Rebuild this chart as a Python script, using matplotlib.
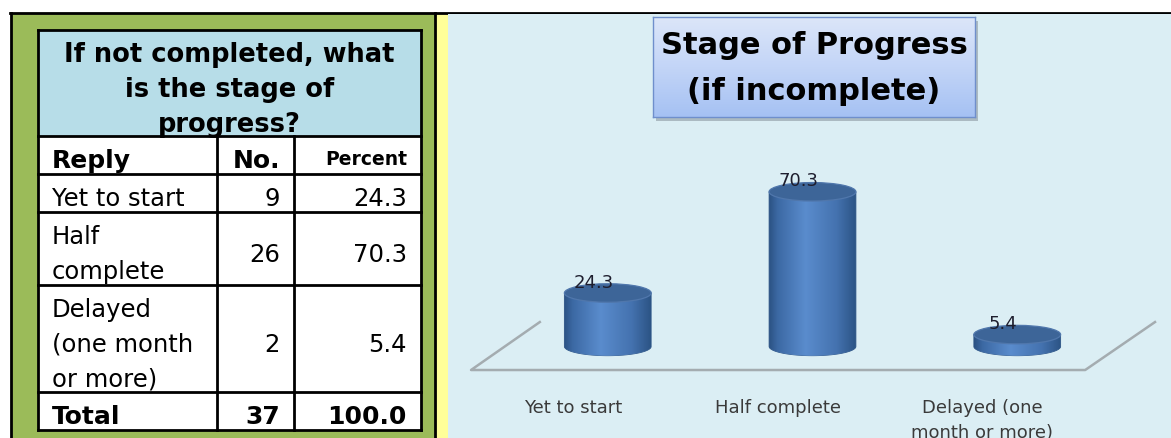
import matplotlib.pyplot as plt
import numpy as np
from matplotlib.colors import LinearSegmentedColormap
from matplotlib.patches import Rectangle, Ellipse, PathPatch
from matplotlib.path import Path

# Table data
table_title = ["If not completed, what", "is the stage of", "progress?"]
col_headers = ["Reply", "No.", "Percent"]
replies = ["Yet to start", "Half\ncomplete", "Delayed\n(one month\nor more)"]
counts = [9, 26, 2]
percents = [24.3, 70.3, 5.4]
total_label = "Total"
total_count = 37
total_percent = 100.0

# Chart data
chart_title = ["Stage of Progress", "(if incomplete)"]
chart_categories = ["Yet to start", "Half complete", "Delayed (one\nmonth or more)"]

W, H = 1171, 439
fig = plt.figure(figsize=(W / 100, H / 100), dpi=100)
plt.rcParams['font.family'] = ['DejaVu Sans']


def fx(px):
    return px / W


def fy(py):
    return 1 - py / H


# background axes in pixel coordinates
bg = fig.add_axes([0, 0, 1, 1])
bg.set_xlim(0, W)
bg.set_ylim(H, 0)
bg.axis("off")

bg.add_patch(Rectangle((11, 14), 424, 430, fc="#9BBB59", ec="none"))
bg.add_patch(Rectangle((436, 14), 12, 430, fc="#FFFF99", ec="none"))
bg.plot([10, W], [14, 14], color="black", lw=2)
bg.plot([11, 11], [14, H], color="black", lw=2)
bg.plot([435, 435], [14, H], color="black", lw=2)

# ---- table ----
col_x = [38, 217, 294, 421]
row_y = [31, 137, 175, 213, 286, 393, 431]
pad = 14
line_gap = 35

bg.add_patch(Rectangle((col_x[0], row_y[0]), col_x[-1] - col_x[0], row_y[1] - row_y[0],
                       fc="#B7DDE8", ec="none"))
bg.add_patch(Rectangle((col_x[0], row_y[1]), col_x[-1] - col_x[0], row_y[-1] - row_y[1],
                       fc="white", ec="none"))
lw = 2
for y in row_y:
    bg.plot([col_x[0], col_x[-1]], [y, y], color="black", lw=lw, solid_capstyle="projecting")
for x in (col_x[0], col_x[-1]):
    bg.plot([x, x], [row_y[0], row_y[-1]], color="black", lw=lw, solid_capstyle="projecting")
for x in col_x[1:-1]:
    bg.plot([x, x], [row_y[1], row_y[-1]], color="black", lw=lw)


def cell_text(text, top, bottom, x, ha, size, weight="normal"):
    lines = text.split("\n")
    n = len(lines)
    mid = (top + bottom) / 2
    off = size * 100 / 72 * 0.5
    for k, line in enumerate(lines):
        yc = mid + (k - (n - 1) / 2) * line_gap
        bg.text(x, yc + off, line, ha=ha, va="baseline", fontsize=size,
                fontweight=weight, color="black")


cell_text("\n".join(table_title), row_y[0], row_y[1], (col_x[0] + col_x[-1]) / 2,
          "center", 18.5, "bold")
cell_text(col_headers[0], row_y[1], row_y[2], col_x[0] + pad, "left", 18, "bold")
cell_text(col_headers[1], row_y[1], row_y[2], col_x[2] - pad, "right", 18, "bold")
cell_text(col_headers[2], row_y[1], row_y[2], col_x[3] - pad, "right", 13.5, "bold")
for r in range(len(replies)):
    top, bottom = row_y[2 + r], row_y[3 + r]
    cell_text(replies[r], top, bottom, col_x[0] + pad, "left", 17.5)
    cell_text(str(counts[r]), top, bottom, col_x[2] - pad, "right", 17.5)
    cell_text(f"{percents[r]:.1f}", top, bottom, col_x[3] - pad, "right", 17.5)
cell_text(total_label, row_y[5], row_y[6], col_x[0] + pad, "left", 18, "bold")
cell_text(str(total_count), row_y[5], row_y[6], col_x[2] - pad, "right", 18, "bold")
cell_text(f"{total_percent:.1f}", row_y[5], row_y[6], col_x[3] - pad, "right", 18, "bold")

# ---- chart ----
ax = fig.add_axes([fx(448), 0, fx(W - 448), 1 - 15 / H])
ax.set_facecolor("#DBEEF4")
for s in ax.spines.values():
    s.set_visible(False)
ax.set_xticks([])
ax.set_yticks([])

bar_w = 0.424
ell_h = 8.4
body_cmap = LinearSegmentedColormap.from_list(
    "cyl", [(0, "#2B5283"), (0.1, "#3C69A4"), (0.42, "#5A8CCD"),
            (0.78, "#4472AF"), (1, "#2C5485")])
grad = np.linspace(0, 1, 256)[None, :]

# 3D floor outline
ax.plot([-0.332, -0.668, 2.332, 2.673], [11.1, -10.7, -10.7, 11.1],
        color="#A4ACB0", lw=1.8, zorder=1)

for i, v in enumerate(percents):
    x0, x1 = i - bar_w / 2, i + bar_w / 2
    theta = np.linspace(np.pi, 2 * np.pi, 80)
    arc_x = i + bar_w / 2 * np.cos(theta)
    arc_y = ell_h / 2 * np.sin(theta)
    verts = [(x0, v)] + list(zip(arc_x, arc_y)) + [(x1, v), (x0, v)]
    body = PathPatch(Path(verts, closed=True), fc="none", ec="#2E5688", lw=0.6, zorder=2)
    ax.add_patch(body)
    im = ax.imshow(grad, extent=(x0, x1, -ell_h / 2, v), aspect="auto",
                   cmap=body_cmap, zorder=2, interpolation="bilinear")
    im.set_clip_path(body)
    ax.add_patch(Ellipse((i, v), bar_w, ell_h, fc="#3D6598", ec="#5077AC",
                         lw=0.9, zorder=3))
    ax.text(i - 0.068, v + 5.2, f"{v:.1f}", ha="center", va="center",
            fontsize=13, color="#1E1E2E", zorder=4)
    ax.text(i - 0.17, -23.5, chart_categories[i], ha="center", va="top",
            fontsize=13, color="#3A3A3A", linespacing=1.5, zorder=4)

ax.set_xlim(-0.7805, 2.7512)
ax.set_ylim(-41.6, 151.1)

# title box with gradient and shadow
bx0, bx1, by0, by1 = 653, 975, 18, 118
bg_shadow = fig.add_axes([fx(bx0 + 3), fy(by1 + 4), fx(bx1 - bx0), (by1 - by0) / H])
bg_shadow.set_facecolor("#8C98A2")
bg_shadow.patch.set_alpha(0.6)
bg_shadow.set_xticks([])
bg_shadow.set_yticks([])
for s in bg_shadow.spines.values():
    s.set_visible(False)

tb = fig.add_axes([fx(bx0), fy(by1), fx(bx1 - bx0), (by1 - by0) / H])
title_cmap = LinearSegmentedColormap.from_list("tb", ["#DCE6F9", "#C3D5F7", "#A5C1F3"])
tb.imshow(np.linspace(0, 1, 256)[:, None], extent=(0, 1, 0, 1), aspect="auto",
          cmap=title_cmap, origin="upper")
tb.set_xticks([])
tb.set_yticks([])
for s in tb.spines.values():
    s.set_color("#6F8FCC")
    s.set_linewidth(1)

title_y = [46, 92]
for line, yy in zip(chart_title, title_y):
    fig.text(fx((bx0 + bx1) / 2), fy(yy), line, ha="center", va="center",
             fontsize=22, fontweight="bold", color="black")

fig.savefig("out.png", dpi=100)
